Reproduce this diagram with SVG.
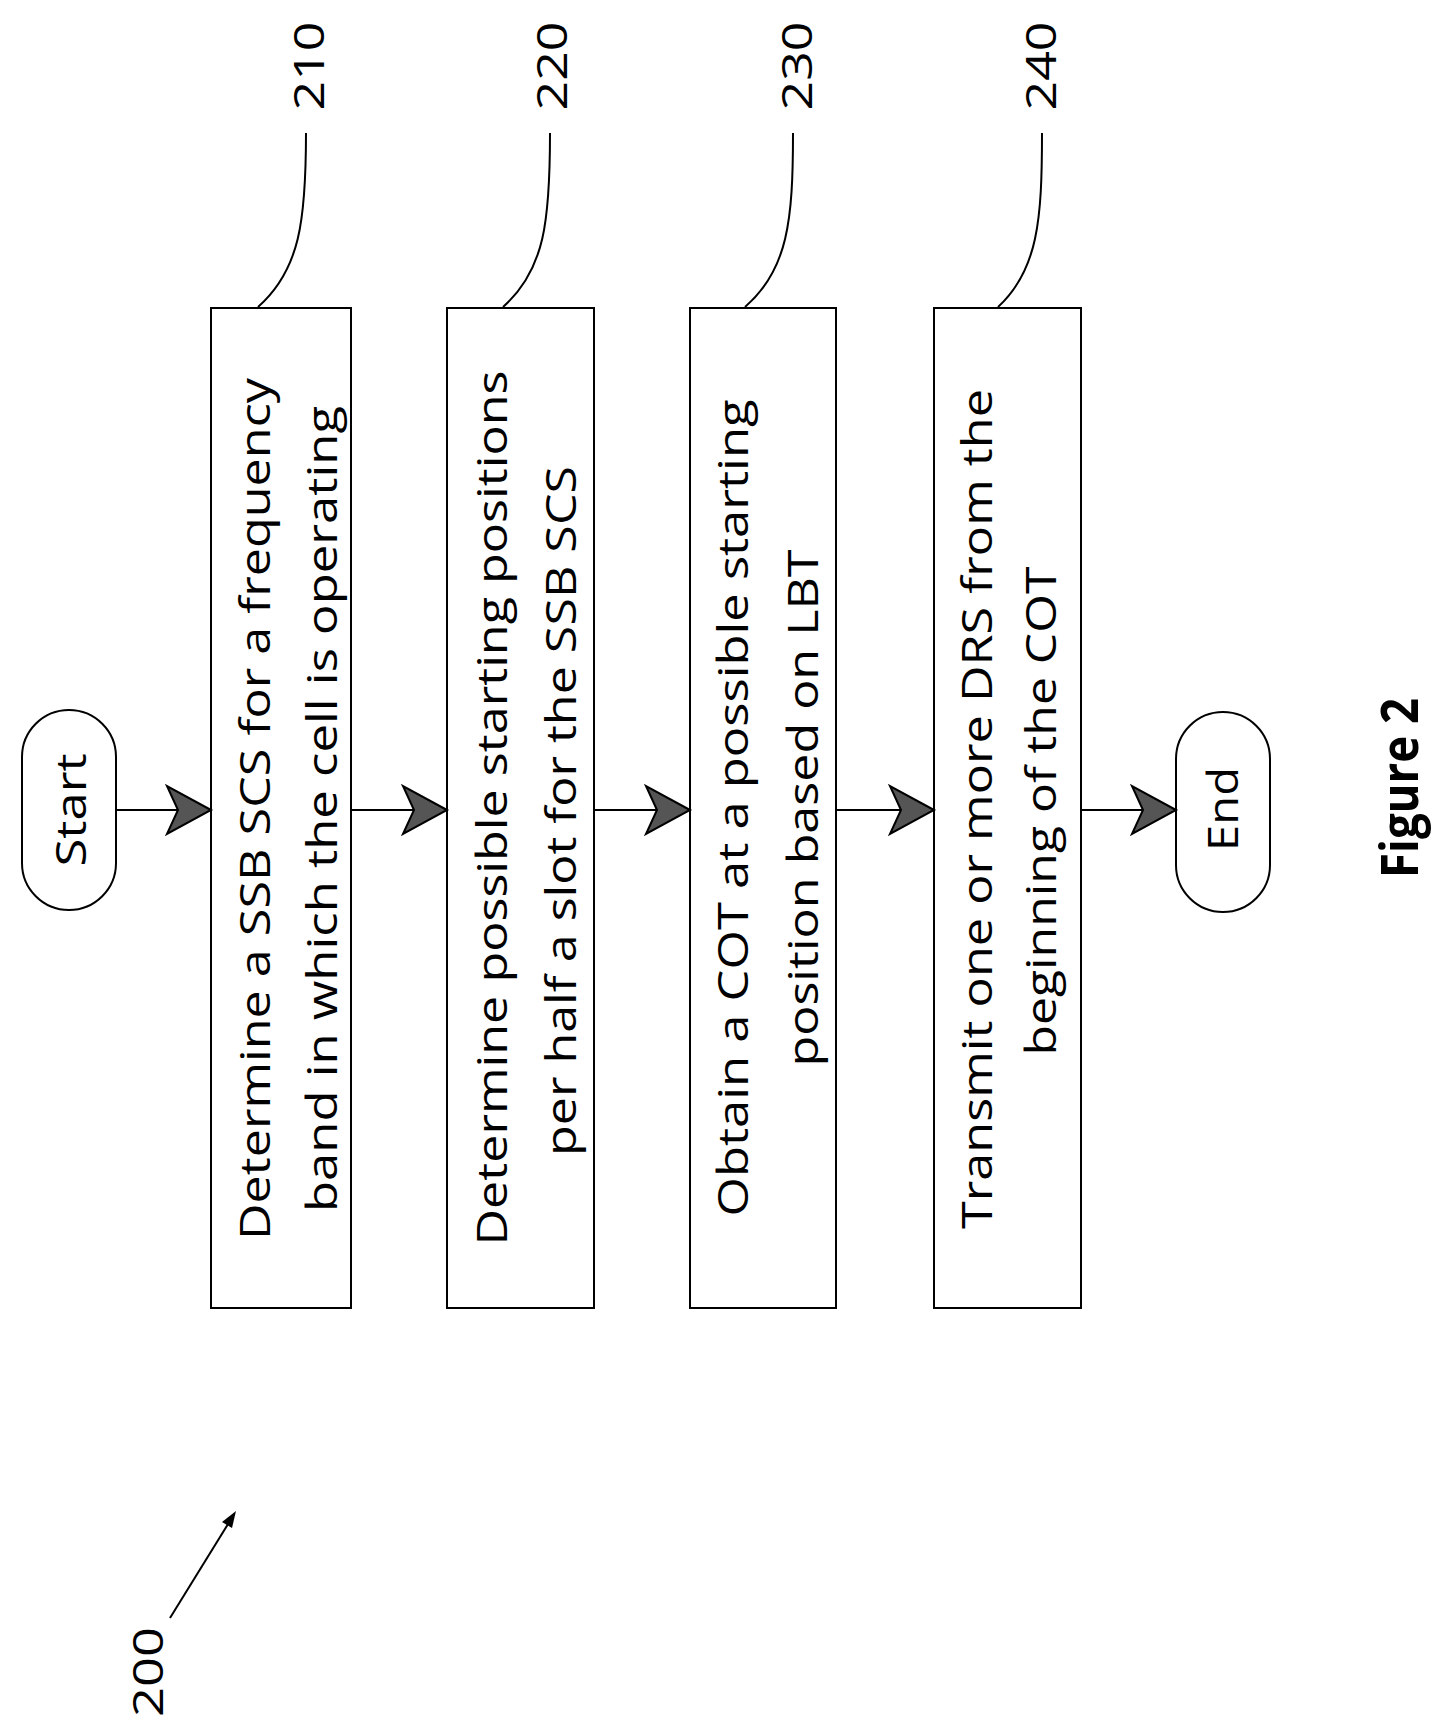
<svg xmlns="http://www.w3.org/2000/svg" width="1446" height="1729" viewBox="0 0 1446 1729">
<style>
.b{fill:#fff;stroke:#000;stroke-width:2}
.t{font-family:"Open Sans","Liberation Sans",sans-serif;font-size:42px;fill:#000;text-anchor:middle}
.l{fill:none;stroke:#000;stroke-width:2}
.ah{fill:#555;stroke:#000;stroke-width:2}
</style>
<defs>
<path id="ah" d="M0 0 L-44 -24 L-33 0 L-44 24 Z"/>
</defs>
<rect width="1446" height="1729" fill="#fff"/>
<g id="start"><rect class="b" x="22" y="710" width="94" height="200" rx="47"/><text class="t" transform="translate(86,810) rotate(-90)" textLength="113" lengthAdjust="spacingAndGlyphs">Start</text></g>
<g id="n210"><rect class="b" x="211" y="308" width="140" height="1000"/>
<text class="t" transform="translate(270,809) rotate(-90)" textLength="862" lengthAdjust="spacingAndGlyphs">Determine a SSB SCS for a frequency</text>
<text class="t" transform="translate(337,809) rotate(-90)" textLength="806" lengthAdjust="spacingAndGlyphs">band in which the cell is operating</text></g>
<g id="n220"><rect class="b" x="447" y="308" width="147" height="1000"/>
<text class="t" transform="translate(507,808) rotate(-90)" textLength="875" lengthAdjust="spacingAndGlyphs">Determine possible starting positions</text>
<text class="t" transform="translate(576,811) rotate(-90)" textLength="690" lengthAdjust="spacingAndGlyphs">per half a slot for the SSB SCS</text></g>
<g id="n230"><rect class="b" x="690" y="308" width="146" height="1000"/>
<text class="t" transform="translate(748,808) rotate(-90)" textLength="817" lengthAdjust="spacingAndGlyphs">Obtain a COT at a possible starting</text>
<text class="t" transform="translate(818,808) rotate(-90)" textLength="517" lengthAdjust="spacingAndGlyphs">position based on LBT</text></g>
<g id="n240"><rect class="b" x="934" y="308" width="147" height="1000"/>
<text class="t" transform="translate(992,809) rotate(-90)" textLength="840" lengthAdjust="spacingAndGlyphs">Transmit one or more DRS from the</text>
<text class="t" transform="translate(1056,811) rotate(-90)" textLength="489" lengthAdjust="spacingAndGlyphs">beginning of the COT</text></g>
<g id="end"><rect class="b" x="1176" y="712" width="94" height="200" rx="47"/><text class="t" transform="translate(1238,809) rotate(-90)" textLength="84" lengthAdjust="spacingAndGlyphs">End</text></g>
<g id="labels">
<text class="t" transform="translate(163,1672) rotate(-90)" textLength="90" lengthAdjust="spacingAndGlyphs">200</text>
<text class="t" transform="translate(324,66) rotate(-90)" textLength="89" lengthAdjust="spacingAndGlyphs">210</text>
<text class="t" transform="translate(567,66) rotate(-90)" textLength="89" lengthAdjust="spacingAndGlyphs">220</text>
<text class="t" transform="translate(812,66) rotate(-90)" textLength="89" lengthAdjust="spacingAndGlyphs">230</text>
<text class="t" transform="translate(1056,66) rotate(-90)" textLength="89" lengthAdjust="spacingAndGlyphs">240</text>
<text class="t" style="font-weight:bold;font-size:52px" transform="translate(1418,788) rotate(-90)" textLength="180" lengthAdjust="spacingAndGlyphs">Figure 2</text>
<path class="l" d="M258 307 C300 270 306 220 306 133"/>
<path class="l" d="M503 307 C545 270 550 220 550 133"/>
<path class="l" d="M745 307 C788 270 793 220 793 133"/>
<path class="l" d="M998 307 C1038 270 1042 220 1042 133"/>
<path class="l" d="M170 1618 L233 1516"/>
<path d="M236 1511 L222 1522 L232 1528 Z" fill="#000"/>
</g>
<g id="connectors">
<path class="l" d="M116 810 H211 M351 810 H447 M594 810 H690 M836 810 H934 M1081 810 H1176"/>
<use href="#ah" class="ah" transform="translate(211,810)"/>
<use href="#ah" class="ah" transform="translate(447,810)"/>
<use href="#ah" class="ah" transform="translate(690,810)"/>
<use href="#ah" class="ah" transform="translate(934,810)"/>
<use href="#ah" class="ah" transform="translate(1176,810)"/>
</g>
</svg>
